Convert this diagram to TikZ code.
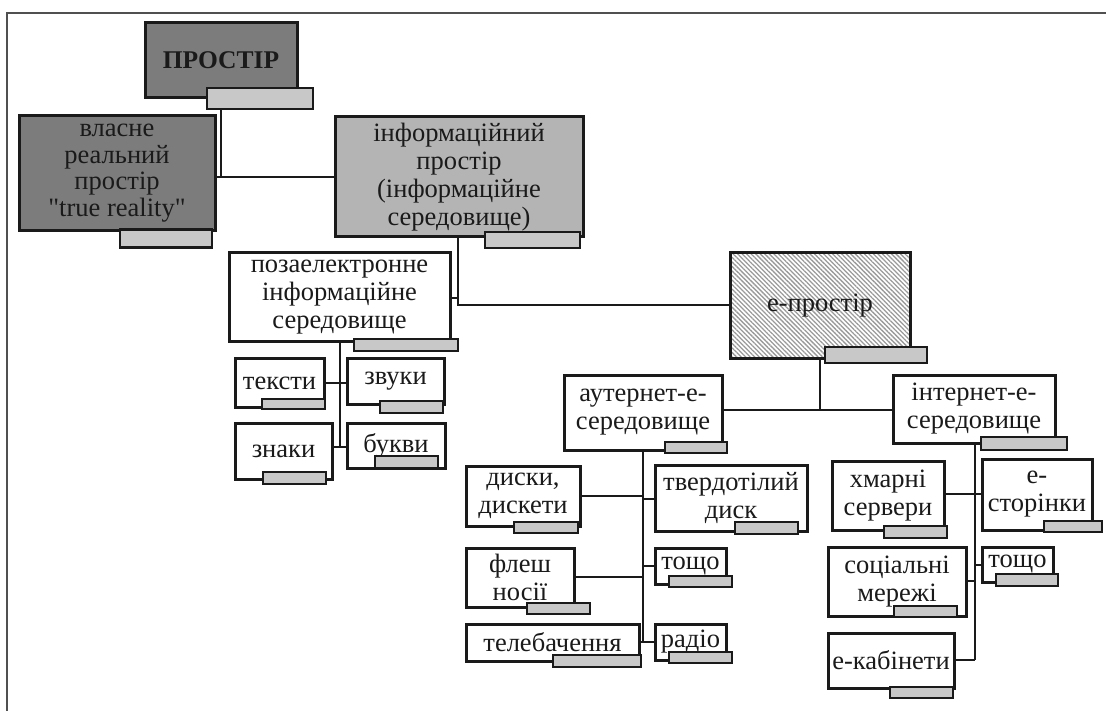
\documentclass[tikz,border=0pt]{standalone}
\usepackage{fontspec}
\setmainfont{Liberation Serif}
\newfontfamily\plainserif{Liberation Serif}
\usetikzlibrary{patterns.meta}
\definecolor{dk}{HTML}{7C7C7C}
\definecolor{md}{HTML}{B4B4B4}
\definecolor{tb}{HTML}{C8C8C8}
\definecolor{ln}{HTML}{1A1A1A}
\definecolor{fr}{HTML}{505050}
\tikzset{
  box/.style={draw=ln, line width=3pt, align=center, inner sep=0pt, text=ln,
    font=\fontsize{26.5}{28}\selectfont},
  wbox/.style={box, fill=white},
  tabbox/.style={draw=ln, line width=2.6pt, fill=tb, inner sep=0pt},
  conn/.style={draw=ln, line width=2.3pt},
}
\begin{document}
\begin{tikzpicture}[x=1pt,y=-1pt]
\useasboundingbox (0,0) rectangle (1106,711);
% frame
\coordinate (fa) at (1106,13);
\coordinate (fb) at (7,13);
\coordinate (fc) at (7,711);
\draw[line width=1.8pt, fr] (fa) -- (fb) -- (fc);

% top level
\node[box, fill=dk, minimum width=152, minimum height=75, font=\fontsize{25.5}{28}\selectfont\bfseries] (prostir) at (221,60.5) {ПРОСТІР};
\node[tabbox, minimum width=106, minimum height=21] (prostirT) at (260,98.5) {};

\node[box, fill=dk, minimum width=196, minimum height=115, font=\fontsize{26.5}{26.5}\selectfont] (vlasne) at (117,173) {власне\\реальний\\простір\\{\plainserif"}true reality{\plainserif"}};
\node[tabbox, minimum width=92, minimum height=18] (vlasneT) at (166,238.5) {};

\node[box, fill=md, minimum width=248, minimum height=120] (info) at (459,177) {інформаційний\\простір\\(інформаційне\\середовище)};
\node[tabbox, minimum width=95, minimum height=16] (infoT) at (532.5,240) {};

% second level
\node[wbox, minimum width=221, minimum height=89] (pozael) at (339.5,297.5) {позаелектронне\\інформаційне\\середовище};
\node[tabbox, minimum width=104, minimum height=12] (pozaelT) at (406,345) {};

\node[box, pattern={Lines[angle=-45,distance=3.2pt,line width=1.3pt]}, pattern color=gray!80, minimum width=180, minimum height=106] (eprostir) at (820,306) {е-простір};
\node[tabbox, minimum width=102, minimum height=16] (eprostirT) at (876,355) {};

% non-electronic children
\node[wbox, minimum width=89, minimum height=48] (teksty) at (279.5,383) {тексти};
\node[tabbox, minimum width=63, minimum height=10] (tekstyT) at (293.5,404) {};
\node[wbox, minimum width=97, minimum height=45] (zvuky) at (395.5,381.5) {звуки};
\node[tabbox, minimum width=63, minimum height=12] (zvukyT) at (411.5,407) {};
\node[wbox, minimum width=97, minimum height=56] (znaky) at (283.5,451) {знаки};
\node[tabbox, minimum width=63, minimum height=12] (znakyT) at (294.5,478) {};
\node[wbox, minimum width=98, minimum height=45] (bukvy) at (396,445.5) {букви};
\node[tabbox, minimum width=63, minimum height=12] (bukvyT) at (406.5,462) {};

% e-space children
\node[wbox, minimum width=158, minimum height=75] (auternet) at (643,412.5) {аутернет-е-\\середовище};
\node[tabbox, minimum width=62, minimum height=11] (auternetT) at (696,447.5) {};
\node[wbox, minimum width=162, minimum height=68] (internet) at (974,409) {інтернет-е-\\середовище};
\node[tabbox, minimum width=86, minimum height=13] (internetT) at (1024,443.5) {};

% outernet children
\node[wbox, minimum width=114, minimum height=60] (dysky) at (523,496) {диски,\\дискети};
\node[tabbox, minimum width=64, minimum height=11] (dyskyT) at (546,527.5) {};
\node[wbox, minimum width=152, minimum height=66] (tverd) at (731,498) {твердотілий\\диск};
\node[tabbox, minimum width=63, minimum height=12] (tverdT) at (766.5,528) {};
\node[wbox, minimum width=108, minimum height=59] (flesh) at (520,577.5) {флеш\\носії};
\node[tabbox, minimum width=63, minimum height=11] (fleshT) at (558.5,608.5) {};
\node[wbox, minimum width=71, minimum height=36] (toshchoA) at (690.5,566) {тощо};
\node[tabbox, minimum width=63, minimum height=11] (toshchoAT) at (700.5,581.5) {};
\node[wbox, minimum width=173, minimum height=37] (teleb) at (552.5,642.5) {телебачення};
\node[tabbox, minimum width=88, minimum height=12] (telebT) at (597,661) {};
\node[wbox, minimum width=71, minimum height=36] (radio) at (690.5,642) {радіо};
\node[tabbox, minimum width=63, minimum height=11] (radioT) at (700.5,657.5) {};

% internet children
\node[wbox, minimum width=112, minimum height=69] (khmar) at (888,495.5) {хмарні\\сервери};
\node[tabbox, minimum width=63, minimum height=12] (khmarT) at (915.5,532) {};
\node[wbox, minimum width=110, minimum height=71] (estor) at (1037,494.5) {е-\\сторінки};
\node[tabbox, minimum width=58, minimum height=11] (estorT) at (1073,526.5) {};
\node[wbox, minimum width=71, minimum height=35] (toshchoB) at (1017.5,564.5) {тощо};
\node[tabbox, minimum width=62, minimum height=12] (toshchoBT) at (1027,580) {};
\node[wbox, minimum width=138, minimum height=69] (social) at (897,581.5) {соціальні\\мережі};
\node[tabbox, minimum width=63, minimum height=11] (socialT) at (925.5,611.5) {};
\node[wbox, minimum width=126, minimum height=55] (ekab) at (891,660.5) {е-кабінети};
\node[tabbox, minimum width=63, minimum height=11] (ekabT) at (921.5,692.5) {};

% junction coordinates
\coordinate (j1) at (221,177);
\coordinate (j2) at (458,305);
\coordinate (j3) at (340,447);
\coordinate (j4) at (820,410);
\coordinate (j5) at (643,642);
\coordinate (j6) at (975,660);

% connectors
\draw[conn] (prostirT.south -| j1) -- (j1);
\draw[conn] (vlasne.east |- j1) -- (info.west |- j1);

\draw[conn] (info.south -| j2) -- (j2) -- (eprostir.west |- j2);
\draw[conn] (pozael.east |- 0,298) -- (j2 |- 0,298);

\draw[conn] (pozael.south -| j3) -- (j3);
\draw[conn] (teksty.east |- 0,383) -- (zvuky.west |- 0,383);
\draw[conn] (znaky.east |- j3) -- (bukvy.west |- j3);

\draw[conn] (eprostir.south -| j4) -- (j4);
\draw[conn] (auternet.east |- j4) -- (internet.west |- j4);

\draw[conn] (auternet.south -| j5) -- (j5);
\draw[conn] (dysky.east |- 0,496) -- (j5 |- 0,496);
\draw[conn] (j5 |- 0,499) -- (tverd.west |- 0,499);
\draw[conn] (flesh.east |- 0,577) -- (j5 |- 0,577);
\draw[conn] (j5 |- 0,566) -- (toshchoA.west |- 0,566);
\draw[conn] (teleb.east |- j5) -- (radio.west |- j5);

\draw[conn] (internet.south -| j6) -- (j6);
\draw[conn] (khmar.east |- 0,494) -- (estor.west |- 0,494);
\draw[conn] (social.east |- 0,581) -- (j6 |- 0,581);
\draw[conn] (j6 |- 0,565) -- (toshchoB.west |- 0,565);
\draw[conn] (ekab.east |- j6) -- (j6);
\end{tikzpicture}
\end{document}
